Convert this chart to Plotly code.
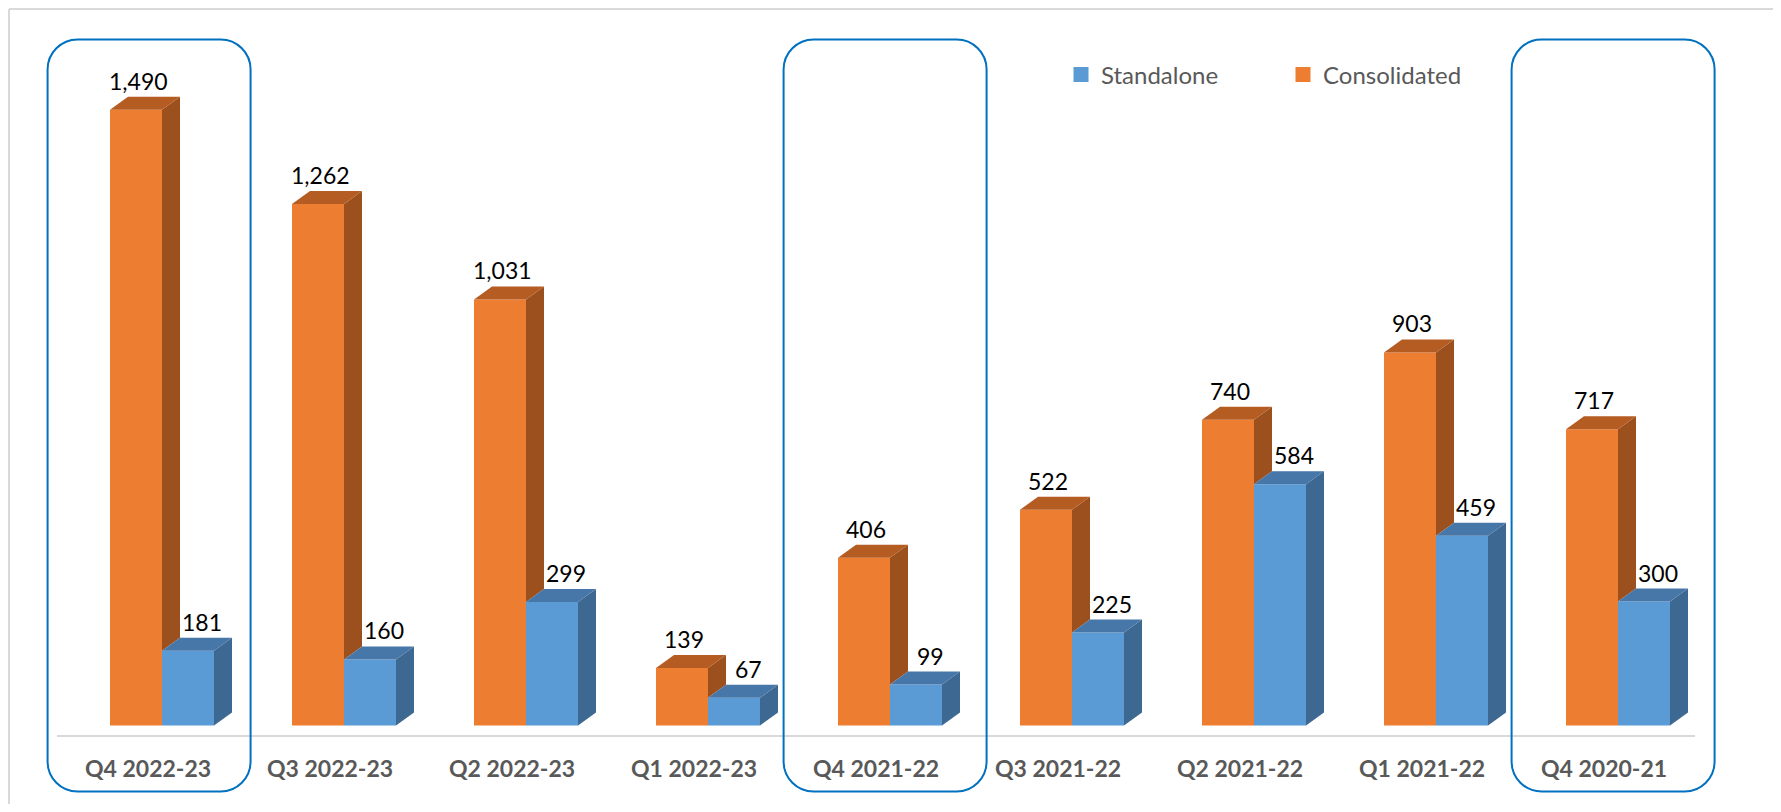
import plotly.graph_objects as go

# ---- data ----
categories = ["Q4 2022-23", "Q3 2022-23", "Q2 2022-23", "Q1 2022-23", "Q4 2021-22",
              "Q3 2021-22", "Q2 2021-22", "Q1 2021-22", "Q4 2020-21"]
consolidated = [1490, 1262, 1031, 139, 406, 522, 740, 903, 717]
standalone = [181, 160, 299, 67, 99, 225, 584, 459, 300]
highlighted = [0, 4, 8]          # categories framed by the rounded boxes
box_shift = [-0.071, -0.027, -0.027]

# ---- geometry / style ----
PAGE_MARGIN = 8                  # default body margin of the html page
W_PX, H_PX = 1781 - 2 * PAGE_MARGIN, 812 - 2 * PAGE_MARGIN
CAT_PX = 182.0                   # pixels per category
UNIT_PX = 0.4132                 # pixels per value unit
X0_PAGE, Y0_PAGE = 162.0, 725.5  # page pixel of category 0 centre / value 0
BW = 52 / CAT_PX                 # bar width in category units
DX = 18 / CAT_PX                 # depth offset (x)
DY = 13 / UNIT_PX                # depth offset (y)

def px2x(p):
    """page pixel -> x data"""
    return (p - X0_PAGE) / CAT_PX

def px2y(p):
    """page pixel -> y data"""
    return (Y0_PAGE - p) / UNIT_PX

OR_FRONT, OR_TOP, OR_SIDE = "#ED7D31", "#B55C22", "#9C501E"
BL_FRONT, BL_TOP, BL_SIDE = "#5B9BD5", "#4677A8", "#3C6891"
FONT = "Lato"

idx = list(range(len(categories)))
fig = go.Figure()

# front faces
fig.add_trace(go.Bar(x=idx, y=consolidated, width=BW, offset=-BW,
                     marker=dict(color=OR_FRONT, line=dict(width=0)),
                     showlegend=False, hoverinfo="skip"))
fig.add_trace(go.Bar(x=idx, y=standalone, width=BW, offset=0,
                     marker=dict(color=BL_FRONT, line=dict(width=0)),
                     showlegend=False, hoverinfo="skip"))

def poly_trace(xs, ys, color):
    return go.Scatter(x=xs, y=ys, mode="lines", fill="toself", fillcolor=color,
                      line=dict(width=0, color=color), showlegend=False,
                      hoverinfo="skip")

# orange side (visible part above the blue bar) and top
sx, sy, tx, ty = [], [], [], []
for i, v, b in zip(idx, consolidated, standalone):
    xr = i
    sx += [xr, xr + DX, xr + DX, xr, xr, None]
    sy += [b, b + DY, v + DY, v, b, None]
    xl = i - BW
    tx += [xl, xr, xr + DX, xl + DX, xl, None]
    ty += [v, v, v + DY, v + DY, v, None]
fig.add_trace(poly_trace(sx, sy, OR_SIDE))
fig.add_trace(poly_trace(tx, ty, OR_TOP))

# blue side and top
sx, sy, tx, ty = [], [], [], []
for i, b in zip(idx, standalone):
    xl, xr = i, i + BW
    sx += [xr, xr + DX, xr + DX, xr, xr, None]
    sy += [0, DY, b + DY, b, 0, None]
    tx += [xl, xr, xr + DX, xl + DX, xl, None]
    ty += [b, b, b + DY, b + DY, b, None]
fig.add_trace(poly_trace(sx, sy, BL_SIDE))
fig.add_trace(poly_trace(tx, ty, BL_TOP))

# legend entries
fig.add_trace(go.Scatter(x=[None], y=[None], mode="markers", name="Standalone",
                         marker=dict(symbol="square", size=15, color=BL_FRONT)))
fig.add_trace(go.Scatter(x=[None], y=[None], mode="markers", name="Consolidated",
                         marker=dict(symbol="square", size=15, color=OR_FRONT)))

annotations = []
# data labels
for i, v, b in zip(idx, consolidated, standalone):
    annotations.append(dict(x=i - BW / 2 + 2 / CAT_PX, y=v + DY, text=f"{v:,}",
                            showarrow=False, yanchor="bottom", xanchor="center",
                            font=dict(family=FONT, size=23, color="#000000")))
    annotations.append(dict(x=i + BW / 2 + 14 / CAT_PX, y=b + DY, text=f"{b:,}",
                            showarrow=False, yanchor="bottom", xanchor="center",
                            font=dict(family=FONT, size=23, color="#000000")))
# category labels
for i, c in zip(idx, categories):
    annotations.append(dict(x=i - 14 / CAT_PX, y=px2y(768), text=f"<b>{c}</b>",
                            showarrow=False, yanchor="middle", xanchor="center",
                            font=dict(family=FONT, size=23, color="#595959")))

shapes = []
# category axis line
shapes.append(dict(type="line", xref="x", yref="y",
                   x0=px2x(57), x1=px2x(1695), y0=px2y(736), y1=px2y(736),
                   line=dict(color="#D9D9D9", width=2)))
# outer chart border (top and left visible)
shapes.append(dict(type="line", xref="paper", yref="paper",
                   x0=1 / W_PX, x1=1.0, y0=1 - 1 / H_PX, y1=1 - 1 / H_PX,
                   line=dict(color="#D9D9D9", width=2)))
shapes.append(dict(type="line", xref="paper", yref="paper",
                   x0=1 / W_PX, x1=1 / W_PX, y0=0, y1=1 - 1 / H_PX,
                   line=dict(color="#D9D9D9", width=2)))

# rounded highlight boxes
rx = 30 / CAT_PX
ry = 30 / UNIT_PX
k = 0.448
half_w = 101.5 / CAT_PX
top_y, bot_y = px2y(39.5), px2y(791.5)
for ci, sh in zip(highlighted, box_shift):
    c = ci + sh
    x0, x1 = c - half_w, c + half_w
    y0, y1 = bot_y, top_y
    path = (f"M {x0 + rx},{y1} L {x1 - rx},{y1} "
            f"C {x1 - rx * k},{y1} {x1},{y1 - ry * k} {x1},{y1 - ry} "
            f"L {x1},{y0 + ry} "
            f"C {x1},{y0 + ry * k} {x1 - rx * k},{y0} {x1 - rx},{y0} "
            f"L {x0 + rx},{y0} "
            f"C {x0 + rx * k},{y0} {x0},{y0 + ry * k} {x0},{y0 + ry} "
            f"L {x0},{y1 - ry} "
            f"C {x0},{y1 - ry * k} {x0 + rx * k},{y1} {x0 + rx},{y1} Z")
    shapes.append(dict(type="path", xref="x", yref="y", path=path,
                       line=dict(color="#0070C0", width=2), layer="above"))

fig.update_layout(
    width=W_PX, height=H_PX,
    margin=dict(l=0, r=0, t=0, b=0),
    paper_bgcolor="white", plot_bgcolor="white",
    barmode="overlay",
    xaxis=dict(range=[px2x(PAGE_MARGIN), px2x(PAGE_MARGIN + W_PX)],
               visible=False, fixedrange=True),
    yaxis=dict(range=[px2y(PAGE_MARGIN + H_PX), px2y(PAGE_MARGIN)],
               visible=False, fixedrange=True),
    showlegend=True,
    legend=dict(orientation="h", x=(1061 - PAGE_MARGIN) / W_PX, xanchor="left",
                y=1 - (75 - PAGE_MARGIN) / H_PX, yanchor="middle",
                entrywidth=177, entrywidthmode="pixels",
                font=dict(family=FONT, size=24, color="#595959"),
                bgcolor="rgba(0,0,0,0)", borderwidth=0),
    annotations=annotations,
    shapes=shapes,
)

fig.write_html("out.html")
